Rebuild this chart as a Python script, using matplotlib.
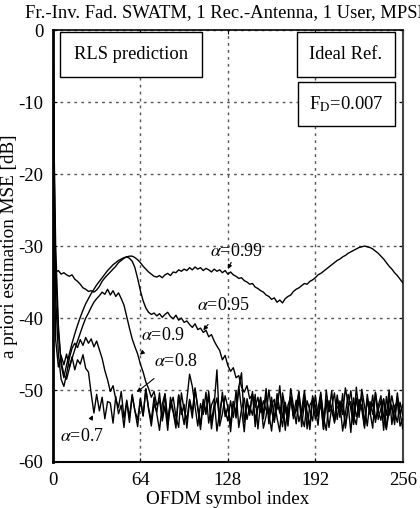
import matplotlib
matplotlib.use("Agg")
import matplotlib.pyplot as plt
from matplotlib.patches import Rectangle

# OFDM symbol index (first step of 1, then every 2nd symbol)
symbols = [0, 1] + list(range(2, 257, 2))

mse_099 = [
    0.0, -33.5, -33.6, -33.4, -33.9, -33.7, -34.0, -34.2, -34.0, -34.6,
    -34.9, -35.3, -35.8, -36.0, -36.3, -36.2, -36.4, -36.1, -35.6, -34.9,
    -34.4, -34.0, -33.6, -33.2, -32.8, -32.3, -32.0, -31.7, -31.5, -31.4,
    -31.4, -31.6, -31.9, -32.3, -32.8, -33.2, -33.6, -33.9, -34.2, -34.3,
    -34.1, -34.4, -34.0, -33.8, -34.1, -33.6, -33.7, -33.3, -33.5, -33.2,
    -33.4, -33.0, -33.3, -32.9, -33.2, -33.0, -33.4, -33.1, -33.3, -33.6,
    -33.2, -33.5, -33.3, -33.7, -33.4, -33.9, -33.6, -34.0, -34.2, -34.5,
    -34.4, -34.8, -35.0, -35.3, -35.2, -35.7, -35.9, -36.2, -36.4, -36.8,
    -37.0, -37.4, -37.2, -37.8, -37.5, -37.9, -37.3, -37.0, -36.8, -36.3,
    -36.0, -35.8, -35.5, -35.2, -35.3, -34.9, -34.7, -34.4, -34.0, -33.8,
    -33.5, -33.2, -32.9, -32.6, -32.3, -32.0, -31.8, -31.5, -31.3, -31.0,
    -30.8, -30.6, -30.4, -30.2, -30.1, -30.0, -30.1, -30.2, -30.4, -30.7,
    -31.0, -31.4, -31.8, -32.3, -32.8, -33.2, -33.7, -34.1, -34.6, -35.1,
]

mse_095 = [
    0.0, -18.0, -30.0, -41.0, -46.5, -48.3, -46.5, -45.0, -43.5, -42.2,
    -41.0, -39.9, -38.9, -38.0, -37.3, -36.6, -36.0, -35.4, -34.9, -34.4,
    -33.9, -33.4, -33.0, -32.6, -32.3, -32.0, -31.8, -31.6, -31.5, -31.7,
    -32.1, -33.0, -34.5, -36.2, -37.6, -38.6, -39.2, -39.5, -39.3, -39.7,
    -39.4, -39.9, -39.5, -39.2, -39.8, -40.1, -39.6, -40.3, -40.0, -40.6,
    -40.4, -40.9, -41.3, -40.8, -41.6, -41.4, -42.0, -41.7, -42.6, -42.3,
    -43.2, -43.9, -44.5, -45.8, -45.2, -46.6, -47.4, -46.9, -48.3, -48.0,
    -49.6, -50.3, -49.4, -51.2, -50.6, -52.4, -51.0, -53.1, -51.5, -52.8,
    -53.4, -51.0, -54.2, -50.5, -52.8, -55.1, -51.7, -53.9, -49.8, -52.3,
    -54.7, -51.2, -53.5, -50.9, -55.4, -52.1, -51.4, -54.0, -52.6, -50.3,
    -53.8, -55.6, -51.5, -52.9, -54.4, -50.7, -53.2, -51.9, -55.0, -52.4,
    -50.1, -53.6, -54.8, -51.3, -52.7, -55.3, -50.6, -53.0, -51.8, -54.5,
    -52.2, -50.8, -53.7, -55.5, -51.1, -52.5, -54.1, -50.4, -53.3, -52.0,
]

mse_09 = [
    0.0, -20.0, -33.0, -42.0, -46.0, -47.8, -48.5, -47.0, -45.6, -44.4,
    -43.2, -42.1, -41.0, -40.0, -39.3, -38.5, -37.8, -37.3, -36.9, -36.4,
    -36.7, -36.0, -36.8, -36.2, -37.0, -36.5, -37.3, -38.2, -39.8, -41.4,
    -42.9, -44.0, -45.0, -46.4, -47.5, -48.9, -49.8, -51.0, -50.2, -52.1,
    -51.5, -53.8, -50.6, -54.9, -52.2, -51.0, -53.7, -55.2, -50.4, -52.8,
    -54.1, -51.3, -53.0, -49.7, -52.6, -55.5, -51.8, -53.4, -50.2, -54.4,
    -52.0, -47.2, -55.0, -53.3, -50.8, -52.4, -54.7, -51.6, -53.9, -49.5,
    -52.7, -55.8, -51.2, -53.1, -50.5, -54.2, -52.3, -51.4, -55.3, -53.6,
    -50.0, -52.9, -54.5, -51.7, -53.2, -50.9, -55.6, -52.1, -51.0, -54.0,
    -52.5, -50.3, -53.7, -55.1, -51.5, -52.8, -54.3, -50.7, -53.5, -52.0,
    -55.4, -51.3, -53.0, -50.1, -54.6, -52.4, -51.9, -55.7, -53.3, -50.6,
    -52.7, -54.8, -51.1, -53.8, -49.9, -52.2, -55.0, -51.6, -53.4, -50.4,
    -54.1, -52.6, -51.2, -55.3, -53.1, -50.8, -52.9, -54.5, -51.7, -53.6,
]

mse_08 = [
    0.0, -24.0, -37.0, -45.0, -48.5, -49.5, -47.8, -45.6, -44.2, -43.5,
    -44.1, -43.0, -43.8, -42.7, -43.5, -42.9, -44.0, -43.2, -44.4, -45.6,
    -47.3, -48.6, -50.2, -49.4, -51.3,
    -52.4, -50.2, -53.9, -51.6, -54.5, -50.8, -52.9, -55.1, -51.3, -53.6,
    -49.9, -52.5, -54.2, -51.0, -53.3, -55.6, -52.0, -50.5, -54.0, -51.8,
    -53.1, -55.3, -50.7, -52.6, -54.8, -51.4, -47.8, -49.5, -52.3, -55.0,
    -51.9, -53.4, -50.3, -54.6, -52.1, -51.2, -55.7, -53.0, -50.9, -52.8,
    -54.3, -51.5, -53.8, -50.1, -55.2, -52.7, -51.1, -54.1, -52.2, -53.5,
    -50.6, -55.4, -51.7, -53.2, -49.8, -54.7, -52.0, -51.3, -53.9, -55.8,
    -50.4, -52.5, -54.4, -51.0, -53.6, -52.9, -50.2, -55.1, -51.8, -53.3,
    -54.9, -50.8, -52.2, -53.7, -51.4, -55.5, -50.0, -53.0, -52.6, -54.2,
    -51.1, -53.8, -50.5, -55.3, -52.3, -51.6, -54.6, -49.6, -53.1, -52.0,
    -55.0, -51.2, -53.4, -50.7, -54.0, -52.8, -51.5, -55.6, -50.9, -53.5,
    -52.1, -54.8, -51.0, -53.2, -55.4,
]

mse_07 = [
    0.0, -30.0, -43.0, -46.8, -45.2, -46.5, -45.0, -46.9, -45.4, -47.2,
    -45.8, -46.4, -45.1, -47.0, -47.5, -50.5, -53.2, -50.6, -52.9, -51.0,
    -54.0, -51.6,
    -51.8, -54.6, -50.9, -53.3, -52.1, -55.2, -51.4, -53.8, -50.6, -52.9,
    -54.1, -51.2, -53.6, -49.8, -52.7, -55.0, -51.9, -53.1, -50.4, -54.3,
    -52.2, -55.6, -51.0, -52.8, -54.7, -50.7, -53.4, -52.0, -55.3, -51.5,
    -53.9, -49.9, -52.4, -54.8, -51.3, -53.0, -50.8, -55.4, -52.6, -51.1,
    -54.2, -50.3, -53.7, -52.3, -55.8, -51.6, -53.2, -49.6, -47.6, -54.5,
    -51.7, -53.5, -50.2, -55.1, -52.5, -51.0, -54.0, -50.5, -53.3, -55.7,
    -51.8, -52.7, -49.4, -53.9, -52.1, -55.0, -50.9, -53.6, -51.4, -54.4,
    -52.8, -50.1, -53.1, -55.5, -51.2, -52.6, -54.9, -50.6, -53.8, -51.9,
    -55.2, -52.3, -50.4, -54.1, -51.5, -53.4, -49.7, -52.0, -55.9, -51.1,
    -53.7, -52.4, -50.8, -54.6, -51.6, -53.0, -55.3, -50.3, -52.9, -54.2,
    -51.3, -53.5, -50.0, -54.8, -52.2, -51.7, -55.0, -53.9,
]

x_ticks = [0, 64, 128, 192, 256]
y_ticks = [0, -10, -20, -30, -40, -50, -60]

# (label, text position, arrow tip)
labels = [
    (r"$\alpha$=0.99", (134.5, -30.7), (128, -33.2)),
    (r"$\alpha$=0.95", (125, -38.3), (110, -41.7)),
    (r"$\alpha$=0.9", (80.5, -42.4), (63.6, -45.1)),
    (r"$\alpha$=0.8", (90, -46.0), (61.4, -50.3)),
    (r"$\alpha$=0.7", (21, -56.5), (29.3, -53.5)),
]

plt.rcParams["font.family"] = ["Liberation Serif", "DejaVu Serif"]
plt.rcParams["mathtext.fontset"] = "stix"
plt.rcParams["axes.unicode_minus"] = False

fig = plt.figure(figsize=(4.2, 5.08), dpi=100)
ax = fig.add_axes([0.126, 0.0906, 0.833, 0.850])

for ys in [mse_099, mse_095, mse_09, mse_08, mse_07]:
    ax.plot(symbols, ys, color="black", lw=1.0, zorder=3)

ax.set_xlim(0, 256)
ax.set_ylim(-60, 0)
ax.set_xticks(x_ticks)
ax.set_yticks(y_ticks)
ax.tick_params(direction="in", length=3, labelsize=13.5, pad=7, top=True, right=True)
ax.grid(True, color="#555555", linestyle=(0, (2, 3)), lw=1.0)
ax.set_axisbelow(True)

ax.spines["left"].set_linewidth(2.0)
ax.spines["bottom"].set_linewidth(1.5)
ax.spines["top"].set_linewidth(1.2)
ax.spines["right"].set_linewidth(1.5)
ax.spines["right"].set_linestyle((0, (1, 1)))
ax.spines["right"].set_color("#444444")

ax.set_xlabel("OFDM symbol index", fontsize=13.8, labelpad=2)
ax.set_ylabel("a priori estimation MSE [dB]", fontsize=13.8, labelpad=0)

for text, pos, tip in labels:
    ax.annotate(text, xy=tip, xytext=pos, fontsize=13, ha="center", va="center",
                arrowprops=dict(arrowstyle="-|>", color="black", lw=0.8,
                                mutation_scale=6, shrinkA=7, shrinkB=0),
                zorder=4)

# text boxes
boxes = [
    ("RLS prediction", 0.020, 0.891, 0.406, 0.104),
    ("Ideal Ref.", 0.697, 0.891, 0.280, 0.104),
    (r"F$_\mathrm{D}$=0.007", 0.700, 0.778, 0.277, 0.102),
]
for text, x0, y0, w, h in boxes:
    ax.add_patch(Rectangle((x0, y0), w, h, transform=ax.transAxes,
                           facecolor="white", edgecolor="black", lw=1.0, zorder=5))
    ax.text(x0 + w / 2, y0 + h / 2, text, transform=ax.transAxes, fontsize=13.3,
            ha="center", va="center", zorder=6)

fig.text(25 / 420, 1 - 17 / 508, "Fr.-Inv. Fad. SWATM, 1 Rec.-Antenna, 1 User, MPSK",
         fontsize=13.4, ha="left", va="baseline")

fig.savefig("out.png", dpi=100)
